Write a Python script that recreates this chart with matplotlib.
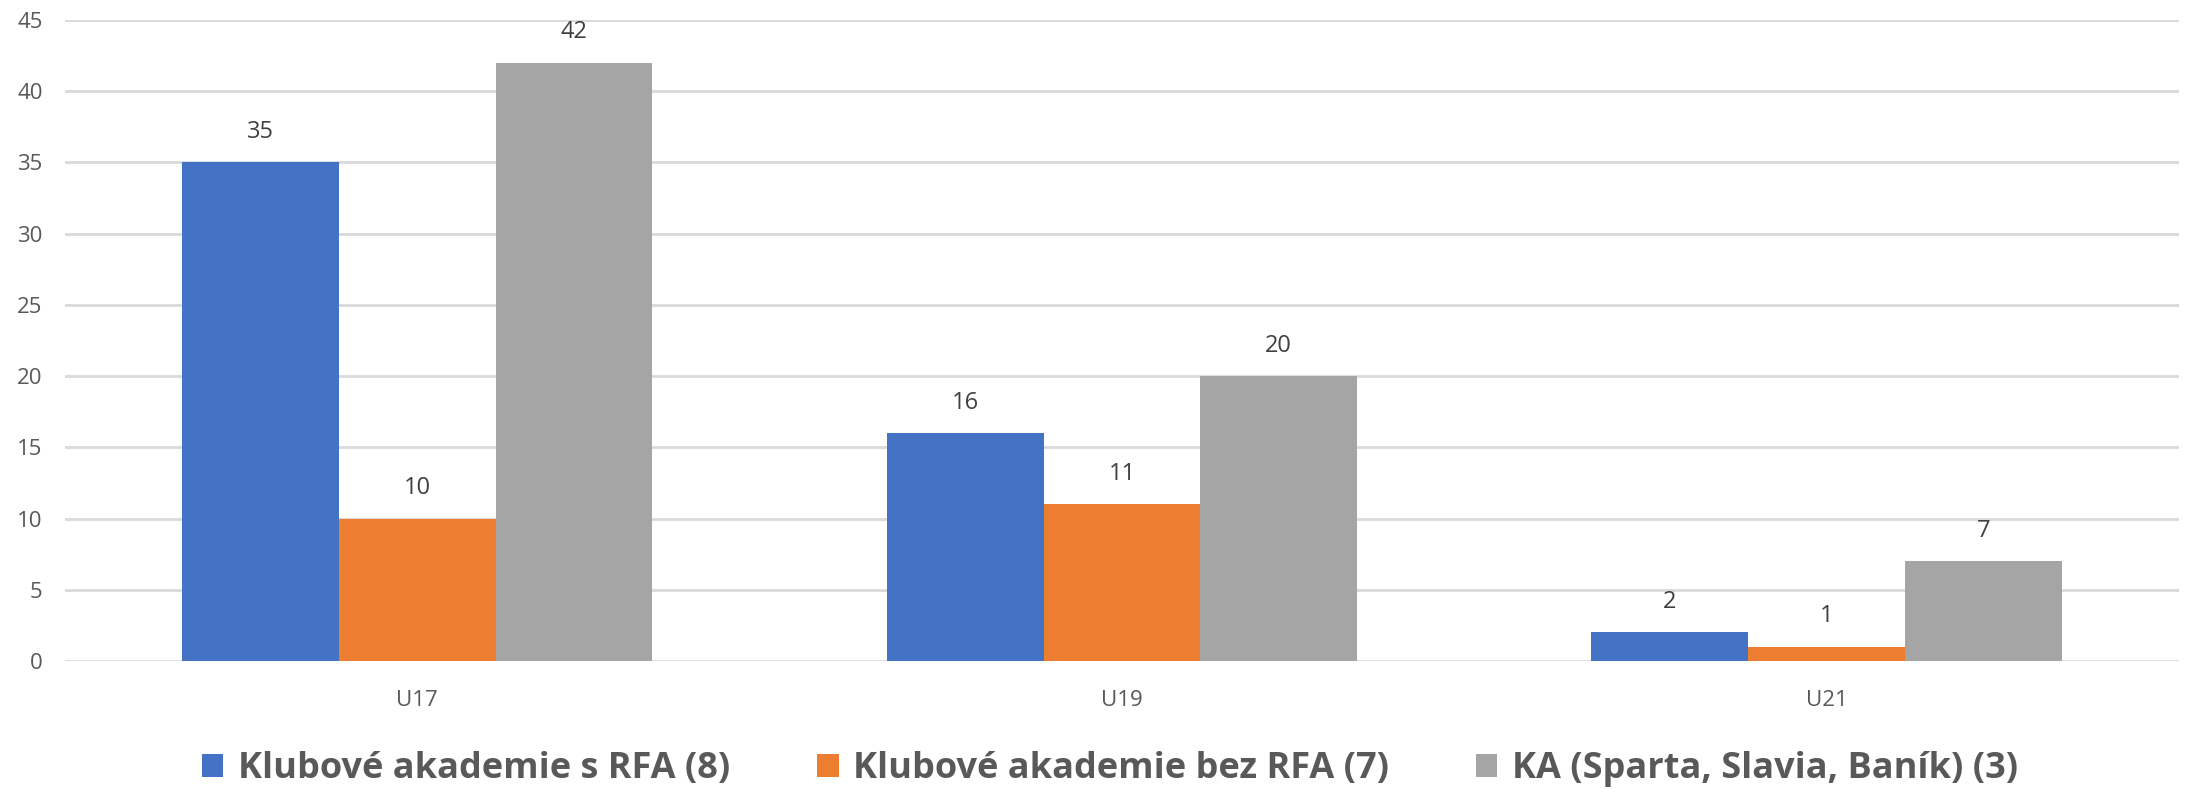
import matplotlib.pyplot as plt
import numpy as np

plt.rcParams['font.family'] = ['Open Sans', 'DejaVu Sans']

categories = ["U17", "U19", "U21"]
series_names = ["Klubové akademie s RFA (8)", "Klubové akademie bez RFA (7)",
                "KA (Sparta, Slavia, Baník) (3)"]
s_rfa = [35, 16, 2]
bez_rfa = [10, 11, 1]
ka_top = [42, 20, 7]
colors = ["#4472C4", "#ED7D31", "#A5A5A5"]

fig = plt.figure(figsize=(21.86, 7.95), dpi=100)
ax = fig.add_axes([0.0297, 0.1686, 0.9671, 0.8062])

x = np.arange(len(categories))
w = 0.2225
for i, (vals, name, c) in enumerate(zip([s_rfa, bez_rfa, ka_top], series_names, colors)):
    bars = ax.bar(x + (i - 1) * w, vals, w, color=c, label=name, zorder=3)
    for b, v in zip(bars, vals):
        ax.text(b.get_x() + b.get_width() / 2, v + 1.3, str(v), ha='center', va='bottom',
                fontsize=17, color='#404040')

ax.set_xlim(-0.5, 2.5)
ax.set_ylim(0, 45)
ax.set_yticks(range(0, 46, 5))
ax.set_xticks(x)
ax.set_xticklabels(categories)
ax.grid(axis='y', color='#D9D9D9', linewidth=2, zorder=0)
for s in ax.spines.values():
    s.set_visible(False)
ax.tick_params(axis='both', length=0, labelsize=16, labelcolor='#595959')
ax.tick_params(axis='x', pad=21)
ax.tick_params(axis='y', pad=16)

leg = fig.legend(loc='center', bbox_to_anchor=(0.5077, 0.033), ncol=3, frameon=False,
                 prop={'size': 26, 'weight': 'bold'}, handlelength=0.6, handleheight=0.6,
                 handletextpad=0.4, columnspacing=2.4)
for t in leg.get_texts():
    t.set_color('#595959')

fig.savefig("out.png", dpi=100)
